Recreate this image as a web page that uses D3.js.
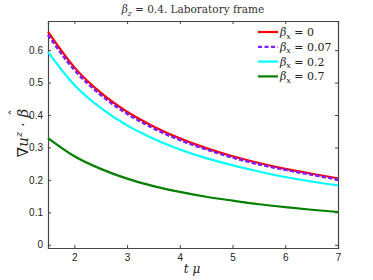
<!DOCTYPE html>
<html>
<head>
<meta charset="utf-8">
<script src="https://cdn.jsdelivr.net/npm/d3@7"></script>
<style>
  body { margin: 0; background: #fff; }
  .tick text { font-family: "Liberation Sans", Arial, sans-serif; font-size: 10px; fill: #222; }
  .serif { font-family: "DejaVu Serif", "Liberation Serif", serif; }
</style>
</head>
<body>
<div id="chart"></div>
<script>
const width = 373;
const height = 280;

// values
const tValues = [1.5, 2, 2.5, 3, 3.5, 4, 4.5, 5, 5.5, 6, 6.5, 7];
const beta0 = [0.657, 0.547, 0.469, 0.410, 0.365, 0.328, 0.298, 0.273, 0.252, 0.234, 0.219, 0.205];
const beta007 = [0.647, 0.539, 0.462, 0.404, 0.359, 0.323, 0.294, 0.269, 0.248, 0.231, 0.216, 0.201];
const beta02 = [0.594, 0.493, 0.422, 0.368, 0.327, 0.294, 0.267, 0.245, 0.226, 0.209, 0.195, 0.183];
const beta07 = [0.329, 0.273, 0.234, 0.204, 0.181, 0.163, 0.148, 0.136, 0.125, 0.116, 0.108, 0.101];
const seriesLabels = ["0", "0.07", "0.2", "0.7"];
const xTicks = [2, 3, 4, 5, 6, 7];
const yTicks = [0, 0.1, 0.2, 0.3, 0.4, 0.5, 0.6];

const series = [
  {label: seriesLabels[0], values: beta0, color: "#ff0000", dash: null},
  {label: seriesLabels[1], values: beta007, color: "#7f1fff", dash: "4,2.5"},
  {label: seriesLabels[2], values: beta02, color: "#00ffff", dash: null},
  {label: seriesLabels[3], values: beta07, color: "#007f00", dash: null}
];

const margin = {top: 21, right: 35, bottom: 32, left: 48};
const plotW = width - margin.left - margin.right;
const plotH = height - margin.top - margin.bottom;

const svg = d3.select("#chart")
    .append("svg")
    .attr("width", width)
    .attr("height", height);

const x = d3.scaleLinear().domain([1.5, 7]).range([0, plotW]);
const y = d3.scaleLinear().domain([-0.01, 0.69]).range([plotH, 0]);

const g = svg.append("g")
    .attr("transform", `translate(${margin.left},${margin.top})`);

// axes with inward ticks, box all round
const axisColor = "#444";
const xAxis = g.append("g")
    .attr("transform", `translate(0,${plotH})`)
    .call(d3.axisBottom(x).tickValues(xTicks).tickSize(-3).tickPadding(6).tickFormat(d3.format("d")));
const xTop = g.append("g")
    .call(d3.axisTop(x).tickValues(xTicks).tickSize(-3).tickFormat(""));
const yAxis = g.append("g")
    .call(d3.axisLeft(y).tickValues(yTicks).tickSize(-3).tickPadding(5).tickFormat(d => d === 0 ? "0" : d3.format(".1f")(d)));
const yRight = g.append("g")
    .attr("transform", `translate(${plotW},0)`)
    .call(d3.axisRight(y).tickValues(yTicks).tickSize(-3).tickFormat(""));

[xAxis, xTop, yAxis, yRight].forEach(a => {
  a.select(".domain").attr("stroke", axisColor).attr("stroke-width", 1.2);
  a.selectAll(".tick line").attr("stroke", axisColor);
});

// curves
const line = d3.line()
    .x((d, i) => x(tValues[i]))
    .y(d => y(d))
    .curve(d3.curveMonotoneX);

g.selectAll("path.curve")
    .data(series)
    .enter()
    .append("path")
    .attr("class", "curve")
    .attr("d", d => line(d.values))
    .attr("fill", "none")
    .attr("stroke", d => d.color)
    .attr("stroke-width", 2.2)
    .attr("stroke-dasharray", d => d.dash);

// redraw the dashed one on top of the red line, like the reference
g.append("path")
    .attr("d", line(beta007))
    .attr("fill", "none")
    .attr("stroke", series[1].color)
    .attr("stroke-width", 2.2)
    .attr("stroke-dasharray", series[1].dash);

// legend
const legend = g.selectAll("g.legend")
    .data(series)
    .enter()
    .append("g")
    .attr("class", "legend")
    .attr("transform", (d, i) => `translate(${210},${11 + i * 14.8})`);

legend.append("line")
    .attr("x1", 0).attr("x2", 20)
    .attr("stroke", d => d.color)
    .attr("stroke-width", 2.2)
    .attr("stroke-dasharray", d => d.dash);

const legendText = legend.append("text")
    .attr("class", "serif")
    .attr("x", 22)
    .attr("y", 4)
    .attr("font-size", 11)
    .attr("fill", "#222");
legendText.append("tspan").attr("font-style", "italic").text("β");
legendText.append("tspan").attr("font-style", "italic").attr("font-size", 8).attr("dy", 2.5).text("x");
legendText.append("tspan").attr("dy", -2.5).text(d => " = " + d.label);

// title
const title = svg.append("text")
    .attr("class", "serif")
    .attr("x", 193)
    .attr("y", 13)
    .attr("text-anchor", "middle")
    .attr("font-size", 10.5)
    .attr("fill", "#333");
title.append("tspan").attr("font-style", "italic").text("β");
title.append("tspan").attr("font-style", "italic").attr("font-size", 7.5).attr("dy", 2.5).text("z");
title.append("tspan").attr("dy", -2.5).text(" = 0.4. Laboratory frame");

// x label
svg.append("text")
    .attr("class", "serif")
    .attr("x", 192)
    .attr("y", 273)
    .attr("text-anchor", "middle")
    .attr("font-size", 12)
    .attr("font-style", "italic")
    .attr("fill", "#222")
    .text("t μ");

// y label
const yLabel = svg.append("text")
    .attr("class", "serif")
    .attr("transform", "translate(28,133) rotate(-90)")
    .attr("text-anchor", "middle")
    .attr("font-size", 15)
    .attr("fill", "#222");
yLabel.append("tspan").text("∇");
yLabel.append("tspan").attr("font-style", "italic").text("u");
yLabel.append("tspan").attr("font-style", "italic").attr("font-size", 10).attr("dy", -6).text("z");
yLabel.append("tspan").attr("dy", 6).text(" · ");
yLabel.append("tspan").attr("font-style", "italic").text("β");
yLabel.append("tspan").attr("font-size", 13).attr("dx", -7).attr("dy", -9).text("ˆ");
</script>
</body>
</html>
